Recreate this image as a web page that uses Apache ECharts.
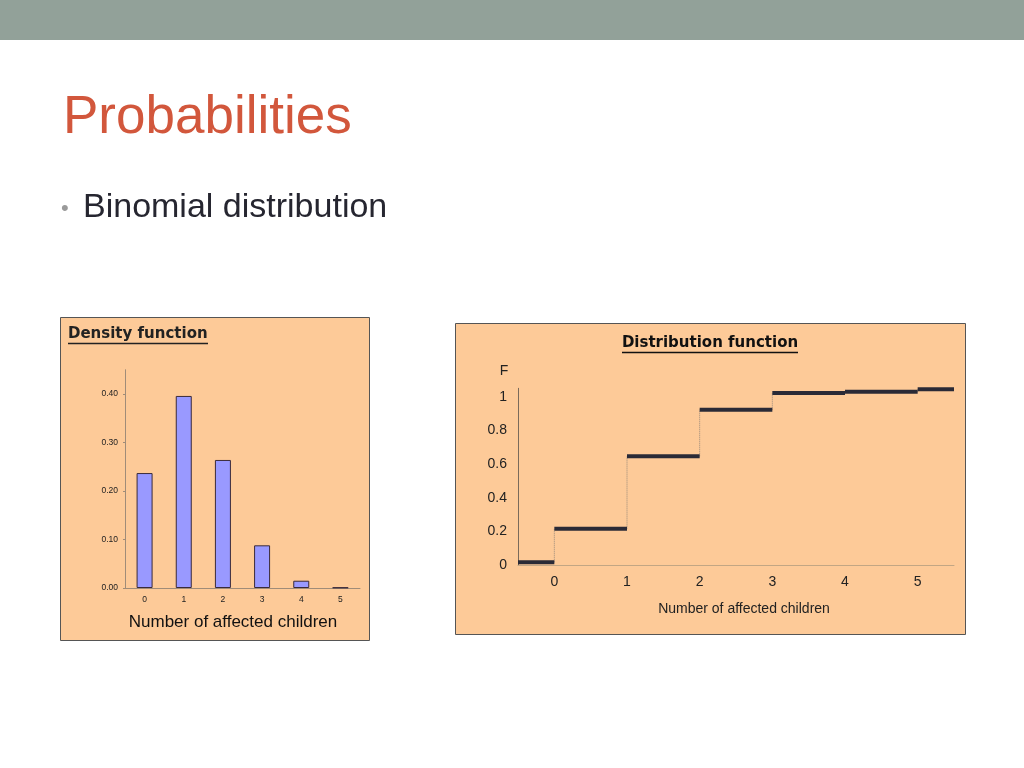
<!DOCTYPE html>
<html>
<head>
<meta charset="utf-8">
<script src="https://cdn.jsdelivr.net/npm/echarts@6/dist/echarts.min.js"></script>
<style>
html,body{margin:0;padding:0;background:#fff;}
#c{width:1024px;height:768px;}
</style>
</head>
<body>
<div id="c"></div>
<script>
// ---- data ----
var densityCategories = ['0', '1', '2', '3', '4', '5'];
var densityValues = [0.237, 0.396, 0.264, 0.088, 0.015, 0.001];
var densityTickLabels = ['0.00', '0.10', '0.20', '0.30', '0.40'];

var stepEdges = [-0.5, 0, 1, 2, 3, 4, 5, 5.5];
var stepValues = [0.016, 0.216, 0.646, 0.923, 1.022, 1.030, 1.044];
var distTickLabels = ['0', '1', '2', '3', '4', '5'];

var slideTitle = 'Probabilities';
var bulletText = 'Binomial distribution';
var leftTitle = 'Density function';
var rightTitle = 'Distribution function';
var xAxisName = 'Number of affected children';
var yAxisNameRight = 'F';

// ---- derived series data ----
var segData = [];
for (var i = 0; i < stepValues.length; i++) {
  segData.push([stepEdges[i], stepEdges[i + 1], stepValues[i]]);
}
var riserData = [];
for (var j = 0; j < stepValues.length - 1; j++) {
  riserData.push([stepEdges[j + 1], stepValues[j], stepValues[j + 1]]);
}

var chart = echarts.init(document.getElementById('c'), null, {renderer: 'canvas'});

var option = {
  animation: false,
  backgroundColor: '#ffffff',
  graphic: [
    {type: 'rect', shape: {x: 0, y: 0, width: 1024, height: 40}, style: {fill: '#92a199'}, z: 0},
    {type: 'text', x: 63, y: 118, style: {text: slideTitle, font: '53px "Liberation Sans", Arial, sans-serif', fill: '#d2573c', verticalAlign: 'middle'}},
    {type: 'text', x: 61, y: 209, style: {text: '\u2022', font: '22px "Liberation Sans", Arial, sans-serif', fill: '#9a9a9a', verticalAlign: 'middle'}},
    {type: 'text', x: 83, y: 208, style: {text: bulletText, font: '34px "Liberation Sans", Arial, sans-serif', fill: '#262630', verticalAlign: 'middle'}},
    // panels
    {type: 'rect', shape: {x: 60.5, y: 317.5, width: 309, height: 323}, style: {fill: '#fdca98', stroke: '#555555', lineWidth: 1}, z: 0},
    {type: 'rect', shape: {x: 455.5, y: 323.5, width: 510, height: 311}, style: {fill: '#fdca98', stroke: '#555555', lineWidth: 1}, z: 0},
    // left title
    {type: 'text', x: 68, y: 334, style: {text: leftTitle, font: 'bold 15px "DejaVu Sans", Verdana, sans-serif', fill: '#222222', verticalAlign: 'middle'}, z: 5},
    {type: 'line', shape: {x1: 68, y1: 343.5, x2: 208, y2: 343.5}, style: {stroke: '#222222', lineWidth: 1.5}, z: 5},
    // right title
    {type: 'text', x: 710, y: 343, style: {text: rightTitle, font: 'bold 15px "DejaVu Sans", Verdana, sans-serif', fill: '#111111', align: 'center', verticalAlign: 'middle'}, z: 5},
    {type: 'line', shape: {x1: 622, y1: 352.5, x2: 798, y2: 352.5}, style: {stroke: '#111111', lineWidth: 1.5}, z: 5},
    // right y name
    {type: 'text', x: 504, y: 371, style: {text: yAxisNameRight, font: '14px "Liberation Sans", Tahoma, sans-serif', fill: '#222222', align: 'center', verticalAlign: 'middle'}, z: 5},
    // axis names
    {type: 'text', x: 233, y: 622, style: {text: xAxisName, font: '17px "Liberation Sans", Arial, sans-serif', fill: '#111111', align: 'center', verticalAlign: 'middle'}, z: 5},
    {type: 'text', x: 744, y: 609, style: {text: xAxisName, font: '14px "Liberation Sans", Tahoma, sans-serif', fill: '#222222', align: 'center', verticalAlign: 'middle'}, z: 5}
  ],
  grid: [
    {left: 125, top: 369.75, width: 235, height: 218.25},
    {left: 518, top: 388.3, width: 436, height: 176.7}
  ],
  xAxis: [
    {
      gridIndex: 0, type: 'category', data: densityCategories, boundaryGap: true,
      axisLine: {lineStyle: {color: '#a08c78', width: 1}},
      axisTick: {show: false},
      axisLabel: {fontSize: 8.5, color: '#222222', margin: 7, fontFamily: '"Liberation Sans", Arial, sans-serif'},
      splitLine: {show: false}
    },
    {
      gridIndex: 1, type: 'value', min: -0.5, max: 5.5, interval: 0.5,
      axisLine: {onZero: false, lineStyle: {color: '#c2a684', width: 1}},
      axisTick: {show: false},
      axisLabel: {
        fontSize: 14, color: '#222222', margin: 10, fontFamily: '"Liberation Sans", Tahoma, sans-serif',
        showMinLabel: false, showMaxLabel: false,
        formatter: function (v) {
          var r = Math.round(v);
          if (Math.abs(v - r) > 1e-6) return '';
          return (r >= 0 && r < distTickLabels.length) ? distTickLabels[r] : '';
        }
      },
      splitLine: {show: false}
    }
  ],
  yAxis: [
    {
      gridIndex: 0, type: 'value', min: 0, max: 0.45, interval: 0.1,
      axisLine: {show: true, lineStyle: {color: '#a08c78', width: 1}},
      axisTick: {show: true, length: 2, inside: false, lineStyle: {color: '#a08c78'}},
      axisLabel: {
        fontSize: 8.5, color: '#222222', margin: 7, showMaxLabel: false,
        fontFamily: '"Liberation Sans", Arial, sans-serif',
        formatter: function (v) {
          var k = Math.round(v * 10);
          if (Math.abs(v * 10 - k) > 1e-6) return '';
          return densityTickLabels[k] || '';
        }
      },
      splitLine: {show: false}
    },
    {
      gridIndex: 1, type: 'value', min: 0, max: 1.05, interval: 0.2,
      axisLine: {show: true, onZero: false, lineStyle: {color: '#7a6a5a', width: 1}},
      axisTick: {show: false},
      axisLabel: {fontSize: 14, color: '#222222', margin: 11, showMaxLabel: false, fontFamily: '"Liberation Sans", Tahoma, sans-serif'},
      splitLine: {show: false}
    }
  ],
  series: [
    {
      type: 'bar', xAxisIndex: 0, yAxisIndex: 0, data: densityValues, barWidth: 16,
      itemStyle: {color: '#9999ff', borderColor: '#3a2a3a', borderWidth: 1}
    },
    {
      type: 'custom', xAxisIndex: 1, yAxisIndex: 1, data: riserData, clip: false, z: 2,
      renderItem: function (params, api) {
        var p1 = api.coord([api.value(0), api.value(1)]);
        var p2 = api.coord([api.value(0), api.value(2)]);
        return {type: 'line', shape: {x1: p1[0], y1: p1[1], x2: p2[0], y2: p2[1]},
          style: {stroke: '#9a8a7a', lineWidth: 1, lineDash: [1, 1]}};
      }
    },
    {
      type: 'custom', xAxisIndex: 1, yAxisIndex: 1, data: segData, clip: false, z: 3,
      renderItem: function (params, api) {
        var p1 = api.coord([api.value(0), api.value(2)]);
        var p2 = api.coord([api.value(1), api.value(2)]);
        return {type: 'line', shape: {x1: p1[0], y1: p1[1], x2: p2[0], y2: p2[1]},
          style: {stroke: '#2a2a36', lineWidth: 4}};
      }
    }
  ]
};
chart.setOption(option);
</script>
</body>
</html>
